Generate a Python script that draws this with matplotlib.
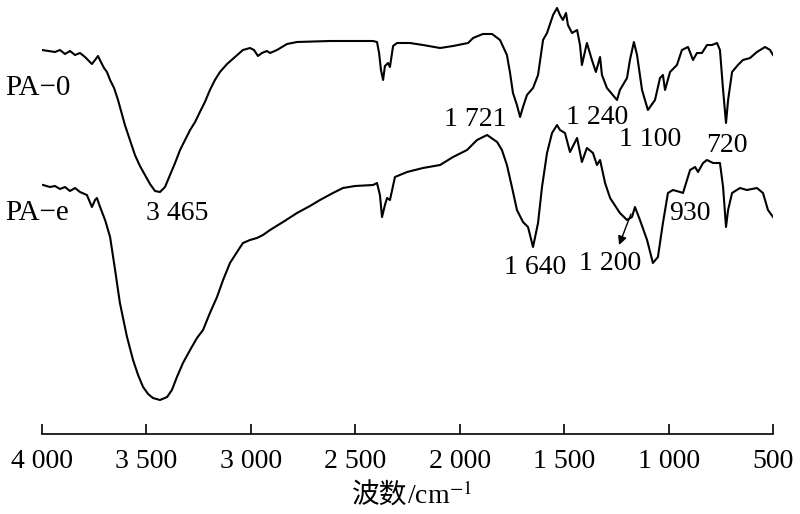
import matplotlib
matplotlib.use('Agg')
from matplotlib import pyplot as plt

plt.rcParams['font.family'] = ['Liberation Serif', 'DejaVu Sans']
plt.rcParams['mathtext.fontset'] = 'stix'

# PA-0 spectrum: wavenumber [cm^-1], transmittance [a.u.]
wn_pa0 = [4000, 3938, 3914, 3890, 3866, 3842, 3818, 3794, 3761, 3746, 3732, 3718,
          3703, 3689, 3674, 3655, 3636, 3603, 3579, 3555, 3531, 3507, 3483, 3459,
          3435, 3411, 3387, 3363, 3339, 3315, 3291, 3267, 3244, 3220, 3196, 3172,
          3148, 3114, 3076, 3038, 3004, 2985, 2966, 2947, 2923, 2908, 2875, 2827,
          2779, 2621, 2415, 2396, 2386, 2377, 2367, 2358, 2343, 2334, 2319, 2300,
          2238, 2176, 2094, 2032, 1960, 1936, 1889, 1845, 1807, 1774, 1759, 1745,
          1726, 1711, 1697, 1678, 1649, 1625, 1601, 1582, 1553, 1534, 1520, 1506,
          1491, 1482, 1462, 1438, 1424, 1415, 1391, 1367, 1348, 1328, 1319, 1295,
          1247, 1233, 1199, 1185, 1166, 1151, 1127, 1099, 1065, 1041, 1027, 1017,
          993, 960, 936, 907, 883, 864, 840, 816, 792, 768, 754, 739, 725, 715,
          696, 668, 644, 610, 577, 538, 514, 500]
t_pa0 = [384, 382, 384, 380, 383, 379, 381, 377, 370, 374, 378, 372,
         366, 362, 354, 346, 334, 309, 294, 279, 268, 259, 250, 243,
         242, 247, 259, 271, 284, 294, 304, 312, 322, 332, 344, 354,
         362, 370, 377, 384, 386, 384, 378, 381, 383, 381, 384, 390,
         392, 393, 393, 392, 381, 364, 354, 368, 371, 367, 388, 391,
         391, 389, 386, 388, 391, 396, 400, 400, 394, 379, 361, 341,
         329, 317, 327, 339, 346, 359, 394, 401, 419, 426, 419, 414,
         421, 409, 401, 404, 389, 369, 391, 374, 362, 377, 359, 346,
         334, 344, 356, 374, 392, 379, 344, 324, 334, 356, 359, 344,
         362, 369, 384, 387, 374, 381, 381, 389, 389, 391, 384, 344, 311, 334,
         362, 369, 374, 376, 382, 387, 384, 379]

# PA-e spectrum
wn_pae = [3995, 3962, 3938, 3914, 3890, 3866, 3842, 3818, 3785, 3761, 3746, 3737,
          3722, 3698, 3674, 3650, 3627, 3593, 3564, 3540, 3516, 3492, 3469, 3435,
          3401, 3378, 3354, 3325, 3291, 3258, 3229, 3196, 3162, 3133, 3100, 3066,
          3038, 3004, 2971, 2942, 2908, 2846, 2779, 2717, 2669, 2607, 2559, 2501,
          2415, 2396, 2382, 2372, 2358, 2348, 2334, 2310, 2252, 2176, 2094, 2032,
          1965, 1917, 1869, 1821, 1798, 1774, 1750, 1726, 1697, 1673, 1649, 1625,
          1606, 1582, 1558, 1534, 1520, 1496, 1472, 1438, 1415, 1391, 1362, 1343,
          1328, 1304, 1280, 1233, 1199, 1175, 1161, 1137, 1103, 1075, 1051, 1027,
          1003, 979, 945, 931, 897, 873, 859, 835, 816, 787, 754, 739, 725, 715,
          696, 658, 625, 577, 548, 524, 500]
t_pae = [249, 247, 248, 245, 247, 243, 246, 242, 239, 227, 234, 236,
         227, 214, 197, 164, 131, 97, 74, 59, 47, 40, 36, 34,
         37, 44, 57, 71, 84, 96, 104, 121, 137, 154, 171, 182,
         191, 194, 196, 199, 204, 212, 221, 228, 234, 241, 246, 248,
         249, 251, 239, 217, 229, 236, 234, 257, 262, 266, 269, 277,
         284, 294, 299, 292, 284, 269, 247, 224, 212, 207, 187, 211,
         247, 281, 301, 309, 304, 301, 282, 296, 272, 286, 281, 269,
         274, 251, 236, 221, 214, 217, 227, 214, 194, 171, 177, 211,
         241, 244, 242, 241, 264, 267, 262, 271, 274, 271, 271, 247, 207, 224,
         241, 246, 244, 246, 241, 224, 217]

# peak labels: text, wavenumber, transmittance of label centre
peak_txt = ['3 465', '1 721', '1 240', '1 100', '720', '930', '1 640', '1 200']
peak_wn = [3354, 1927, 1343, 1089, 720, 897, 1640, 1280]
peak_t = [221, 314, 317, 294, 288, 221, 166, 170]

xticks = [4000, 3500, 3000, 2500, 2000, 1500, 1000, 500]
xtick_labels = ['4 000', '3 500', '3 000', '2 500', '2 000', '1 500', '1 000', '500']

fig = plt.figure(figsize=(8, 5.14), dpi=100)
ax = fig.add_axes([42 / 800, 1 - 434 / 514, 731 / 800, 434 / 514])

ax.plot(wn_pa0, t_pa0, color='black', lw=1.5)
ax.plot(wn_pae, t_pae, color='black', lw=1.5)

for s, w, t in zip(peak_txt, peak_wn, peak_t):
    ax.text(w, t, s, fontsize=20, ha='center', va='center')

# arrow for the 1 200 band
ax.annotate('', xy=(1237, 189), xytext=(1180, 220),
            arrowprops=dict(arrowstyle='-|>', color='black', lw=1.0,
                            mutation_scale=13, shrinkA=0, shrinkB=0))

fig.text(5 / 800, 1 - 88 / 514, 'PA\u22120', fontsize=21, ha='left', va='center')
fig.text(5 / 800, 1 - 213 / 514, 'PA\u2212e', fontsize=21, ha='left', va='center')

ax.set_xlim(4000, 500)
ax.set_ylim(0, 434)
ax.set_xticks(xticks)
ax.set_xticklabels(xtick_labels)
ax.tick_params(axis='x', direction='in', length=7, width=1.2, labelsize=20, pad=11)
ax.set_yticks([])
for side in ['top', 'left', 'right']:
    ax.spines[side].set_visible(False)
ax.spines['bottom'].set_linewidth(1.2)

# x label: Chinese part and unit part side by side
fig.text(407 / 800, 1 - 504 / 514, '波数', fontsize=20, ha='right', va='baseline',
         family=['Noto Sans CJK SC', 'DejaVu Sans'])
fig.text(407 / 800, 1 - 504 / 514, '/cm$^{-1}$', fontsize=20, ha='left', va='baseline')

fig.savefig('out.png', dpi=100)
